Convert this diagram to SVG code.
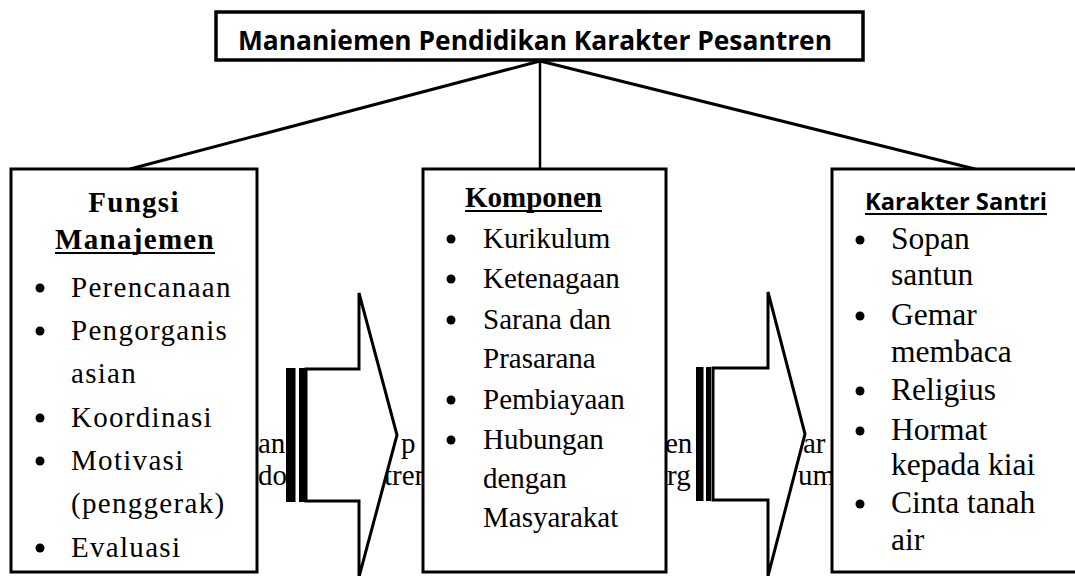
<svg xmlns="http://www.w3.org/2000/svg" width="1075" height="576" viewBox="0 0 1075 576">
<style>
.box{fill:#fff;stroke:#000;stroke-width:3}
.con{stroke:#000;stroke-width:3;fill:none}
.ser{font-family:"Liberation Serif","Times New Roman",serif;fill:#000}
.l{font-size:29px;letter-spacing:1.3px}
.m{font-size:29px}
.r{font-size:31.5px}
.b{font-weight:bold}
.sans{font-family:"Open Sans","Liberation Sans",sans-serif;font-weight:bold;fill:#000}
.ul{stroke:#000;stroke-width:2}
.arr{fill:#fff;stroke:#000;stroke-width:3;stroke-linejoin:miter}
.bul{fill:#000}
</style>
<rect width="1075" height="576" fill="#fff"/>
<g id="background-text" class="ser m">
<text x="258" y="453">an</text>
<text x="258" y="485">do</text>
<text x="401" y="453">p</text>
<text x="384" y="485">tren</text>
<text x="665" y="453">en</text>
<text x="667" y="485">rg</text>
<text x="803" y="453">ar</text>
<text x="798" y="485">um</text>
</g>
<g id="connectors">
<line class="con" x1="540" y1="61" x2="130" y2="169"/>
<line class="con" x1="540" y1="61" x2="540" y2="169" style="stroke-width:2.5"/>
<line class="con" x1="540" y1="61" x2="975" y2="169"/>
</g>
<g id="title">
<rect class="box" x="216" y="12" width="647" height="48" style="stroke-width:3.5"/>
<text class="sans" x="238" y="50" font-size="26.5" textLength="594" lengthAdjust="spacingAndGlyphs">Mananiemen Pendidikan Karakter Pesantren</text>
</g>
<g id="fungsi-manajemen">
<rect class="box" x="11" y="169" width="246" height="403"/>
<text class="ser l b" x="134" y="212" text-anchor="middle">Fungsi</text>
<text class="ser l b" x="135" y="249" text-anchor="middle">Manajemen</text>
<line class="ul" x1="55" y1="253" x2="215" y2="253"/>
<g class="bul">
<circle cx="40" cy="288" r="4.5"/>
<circle cx="40" cy="331" r="4.5"/>
<circle cx="40" cy="418" r="4.5"/>
<circle cx="40" cy="461" r="4.5"/>
<circle cx="40" cy="548" r="4.5"/>
</g>
<g class="ser l">
<text x="71" y="297">Perencanaan</text>
<text x="71" y="340">Pengorganis</text>
<text x="71" y="383">asian</text>
<text x="71" y="427">Koordinasi</text>
<text x="71" y="470">Motivasi</text>
<text x="71" y="513">(penggerak)</text>
<text x="71" y="557">Evaluasi</text>
</g>
</g>
<g id="komponen">
<rect class="box" x="423" y="169" width="243" height="403"/>
<text class="ser m b" x="533.5" y="207" text-anchor="middle">Komponen</text>
<line class="ul" x1="465" y1="211" x2="602" y2="211"/>
<g class="bul">
<circle cx="451" cy="239" r="4.5"/>
<circle cx="451" cy="279" r="4.5"/>
<circle cx="451" cy="320" r="4.5"/>
<circle cx="451" cy="400" r="4.5"/>
<circle cx="451" cy="440" r="4.5"/>
</g>
<g class="ser m">
<text x="483" y="248">Kurikulum</text>
<text x="483" y="288">Ketenagaan</text>
<text x="483" y="329">Sarana dan</text>
<text x="483" y="368">Prasarana</text>
<text x="483" y="409">Pembiayaan</text>
<text x="483" y="449">Hubungan</text>
<text x="483" y="488">dengan</text>
<text x="483" y="527">Masyarakat</text>
</g>
</g>
<g id="karakter-santri">
<rect class="box" x="832" y="169" width="260" height="403"/>
<text class="sans" x="865" y="210" font-size="23.5" textLength="182" lengthAdjust="spacingAndGlyphs">Karakter Santri</text>
<line class="ul" x1="865" y1="214" x2="1047" y2="214"/>
<g class="bul">
<circle cx="860" cy="240" r="4.5"/>
<circle cx="860" cy="316" r="4.5"/>
<circle cx="860" cy="391" r="4.5"/>
<circle cx="860" cy="431" r="4.5"/>
<circle cx="860" cy="504" r="4.5"/>
</g>
<g class="ser r">
<text x="891" y="249">Sopan</text>
<text x="891" y="285">santun</text>
<text x="891" y="325">Gemar</text>
<text x="891" y="362">membaca</text>
<text x="891" y="400">Religius</text>
<text x="891" y="440">Hormat</text>
<text x="891" y="475">kepada kiai</text>
<text x="891" y="513">Cinta tanah</text>
<text x="891" y="550">air</text>
</g>
</g>
<g id="arrow-1">
<rect x="286" y="368" width="9.5" height="134" fill="#000"/>
<rect x="299" y="368" width="6" height="134" fill="#000"/>
<polygon class="arr" points="306,369 359,369 359,293 397,435 359,577 359,501 306,501"/>
</g>
<g id="arrow-2">
<rect x="696" y="367" width="7.5" height="134" fill="#000"/>
<rect x="706" y="367" width="5" height="134" fill="#000"/>
<polygon class="arr" points="713,368 768,368 768,292 805,434 768,576 768,500 713,500"/>
</g>
</svg>
